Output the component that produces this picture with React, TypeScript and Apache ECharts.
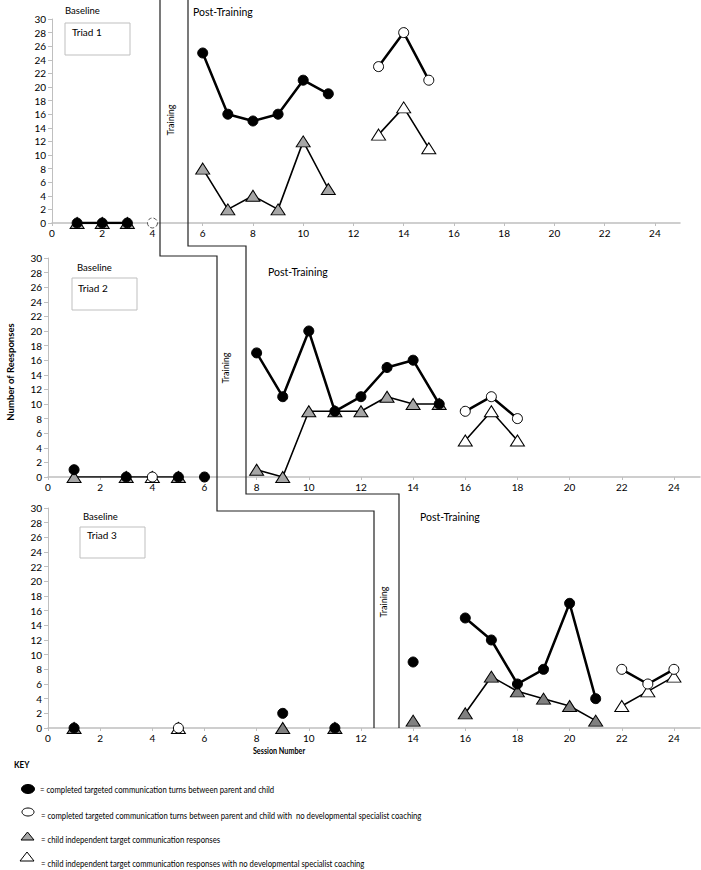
import React, { useEffect, useRef } from "react";
import * as echarts from "echarts";

// ---------- DATA (session, responses) ----------
// Triad 1
const t1ParentBase = [[1, 0], [2, 0], [3, 0]];
const t1ParentNoCoachBase = [[4, 0]];
const t1ParentPost = [[6, 25], [7, 16], [8, 15], [9, 16], [10, 21], [11, 19]];
const t1ParentNoCoach = [[13, 23], [14, 28], [15, 21]];
const t1ChildBase = [[1, 0], [2, 0], [3, 0]];
const t1ChildPost = [[6, 8], [7, 2], [8, 4], [9, 2], [10, 12], [11, 5]];
const t1ChildNoCoach = [[13, 13], [14, 17], [15, 11]];

// Triad 2
const t2ParentBase = [[1, 1], [3, 0], [5, 0], [6, 0]];
const t2ParentNoCoachBase = [[4, 0]];
const t2ParentPost = [[8, 17], [9, 11], [10, 20], [11, 9], [12, 11], [13, 15], [14, 16], [15, 10]];
const t2ParentNoCoach = [[16, 9], [17, 11], [18, 8]];
const t2ChildBase = [[1, 0], [3, 0], [5, 0]];
const t2ChildNoCoachBase = [[4, 0]];
const t2ChildPost = [[8, 1], [9, 0], [10, 9], [11, 9], [12, 9], [13, 11], [14, 10], [15, 10]];
const t2ChildNoCoach = [[16, 5], [17, 9], [18, 5]];

// Triad 3
const t3ParentBase = [[1, 0], [9, 2], [11, 0], [14, 9]];
const t3ParentNoCoachBase = [[5, 0]];
const t3ParentPost = [[16, 15], [17, 12], [18, 6], [19, 8], [20, 17], [21, 4]];
const t3ParentNoCoach = [[22, 8], [23, 6], [24, 8]];
const t3ChildBase = [[1, 0], [9, 0], [11, 0], [14, 1]];
const t3ChildNoCoachBase = [[5, 0]];
const t3ChildPost = [[16, 2], [17, 7], [18, 5], [19, 4], [20, 3], [21, 1]];
const t3ChildNoCoach = [[22, 3], [23, 5], [24, 7]];

const sessionTicks = [0, 2, 4, 6, 8, 10, 12, 14, 16, 18, 20, 22, 24];
const responseTicks = [0, 2, 4, 6, 8, 10, 12, 14, 16, 18, 20, 22, 24, 26, 28, 30];

const triadNames = ["Triad 1", "Triad 2", "Triad 3"];
const keyLabels = [
  "= completed targeted communication turns between parent and child",
  "= completed targeted communication turns between parent and child with  no developmental specialist coaching",
  "= child independent target communication responses",
  "= child independent target communication responses with no developmental specialist coaching",
];

const FONT = "Lato, 'Open Sans', sans-serif";

function parentSeries(gi: number, data: number[][], connected: boolean, white = false, dashed = false) {
  return {
    type: connected ? "line" : "scatter",
    xAxisIndex: gi,
    yAxisIndex: gi,
    data,
    symbol: "circle",
    symbolSize: 10,
    showSymbol: true,
    z: 5,
    lineStyle: { color: "#000", width: 2.5 },
    itemStyle: {
      color: white ? "#fff" : "#000",
      borderColor: dashed ? "#555" : "#000",
      borderWidth: 1,
      borderType: dashed ? "dashed" : "solid",
      opacity: 1,
    },
    emphasis: { disabled: true },
  };
}

function childSeries(gi: number, data: number[][], connected: boolean, fill: string) {
  return {
    type: connected ? "line" : "scatter",
    xAxisIndex: gi,
    yAxisIndex: gi,
    data,
    symbol: "triangle",
    symbolSize: [14, 11],
    showSymbol: true,
    z: 3,
    lineStyle: { color: "#000", width: 1.6 },
    itemStyle: { color: fill, borderColor: "#000", borderWidth: 1, opacity: 1 },
    emphasis: { disabled: true },
  };
}

const grids = [
  { left: 52, top: 19, width: 628, height: 204 },
  { left: 48, top: 258, width: 652, height: 219 },
  { left: 48, top: 508, width: 652, height: 220 },
];

export default function App() {
  const ref = useRef<HTMLDivElement>(null);
  useEffect(() => {
    document.body.style.margin = "0";
    const chart = echarts.init(ref.current!, undefined, { renderer: "svg" });

    const xAxes = grids.map((_, i) => ({
      type: "value",
      gridIndex: i,
      min: 0,
      max: 25,
      axisLine: { show: true, lineStyle: { color: "#bfbfbf", width: 1.5 } },
      axisTick: { show: true, length: 3, lineStyle: { color: "#bfbfbf" }, customValues: sessionTicks },
      splitLine: { show: false },
      axisLabel: { show: false },
    }));
    const yAxes = grids.map((_, i) => ({
      type: "value",
      gridIndex: i,
      min: 0,
      max: 30,
      interval: 2,
      axisLine: { show: true, lineStyle: { color: "#bfbfbf" } },
      axisTick: { show: true, length: 4, lineStyle: { color: "#bfbfbf" }, customValues: responseTicks },
      splitLine: { show: false },
      axisLabel: { fontSize: 10, color: "#000", fontFamily: FONT, margin: 6, customValues: responseTicks },
    }));

    const g1 = "#a6a6a6";
    const g3 = "#808080";
    const series = [
      // triad 1
      childSeries(0, t1ChildBase, true, g1),
      childSeries(0, t1ChildPost, true, g1),
      childSeries(0, t1ChildNoCoach, true, "#fff"),
      parentSeries(0, t1ParentBase, true),
      parentSeries(0, t1ParentNoCoachBase, false, true, true),
      parentSeries(0, t1ParentPost, true),
      parentSeries(0, t1ParentNoCoach, true, true),
      // triad 2
      childSeries(1, t2ChildBase, true, g1),
      childSeries(1, t2ChildNoCoachBase, false, "#fff"),
      childSeries(1, t2ChildPost, true, g1),
      childSeries(1, t2ChildNoCoach, true, "#fff"),
      parentSeries(1, t2ParentBase, false),
      parentSeries(1, t2ParentNoCoachBase, false, true),
      parentSeries(1, t2ParentPost, true),
      parentSeries(1, t2ParentNoCoach, true, true),
      // triad 3
      childSeries(2, t3ChildBase, false, g3),
      childSeries(2, t3ChildNoCoachBase, false, "#fff"),
      childSeries(2, t3ChildPost, true, g3),
      childSeries(2, t3ChildNoCoach, true, "#fff"),
      parentSeries(2, t3ParentBase, false),
      parentSeries(2, t3ParentNoCoachBase, false, true),
      parentSeries(2, t3ParentPost, true),
      parentSeries(2, t3ParentNoCoach, true, true),
    ];

    const txt = (x: number, y: number, text: string, extra: any = {}) => ({
      type: "text",
      x,
      y,
      z: 10,
      style: {
        text,
        fontFamily: FONT,
        fontSize: 10,
        fill: "#000",
        textAlign: "left",
        textVerticalAlign: "middle",
        ...(extra.style || {}),
      },
      ...(extra.el || {}),
    });
    const box = (x: number, y: number, w: number, h: number) => ({
      type: "rect",
      shape: { x, y, width: w, height: h },
      style: { fill: "#fff", stroke: "#bfbfbf", lineWidth: 1 },
      z: 9,
    });
    const rotTxt = (x: number, y: number, text: string, size: number, bold = false) => ({
      type: "text",
      x,
      y,
      rotation: Math.PI / 2,
      z: 10,
      style: {
        text,
        fontFamily: FONT,
        fontSize: size,
        fontWeight: bold ? "bold" : "normal",
        fill: "#000",
        textAlign: "center",
        textVerticalAlign: "middle",
      },
    });

    const phaseLine = (points: number[][]) => ({
      type: "polyline",
      shape: { points },
      style: { stroke: "#222", lineWidth: 1.2, fill: "none" },
      z: 8,
    });

    const keyText = (x: number, y: number, text: string) =>
      txt(x, y, text, { style: { fontSize: 9 }, el: { scaleX: 0.86 } });

    const graphic: any[] = [
      // phase-change lines
      phaseLine([[160, 0], [160, 256], [217, 256], [217, 511], [374, 511], [374, 728]]),
      phaseLine([[188, 0], [188, 246], [246, 246], [246, 494], [399, 494], [399, 728]]),
      // triad 1
      txt(65, 10, "Baseline", { style: { fontSize: 9.5 } }),
      box(65, 23, 65, 32),
      txt(72, 32, triadNames[0]),
      txt(193, 12, "Post-Training", { style: { fontSize: 10.5 } }),
      rotTxt(170, 120, "Training", 9),
      // triad 2
      txt(77, 267, "Baseline", { style: { fontSize: 9.5 } }),
      box(72, 278, 65, 32),
      txt(78, 288, triadNames[1]),
      txt(268, 272, "Post-Training", { style: { fontSize: 10.5 } }),
      rotTxt(225, 368, "Training", 9),
      // triad 3
      txt(83, 516, "Baseline", { style: { fontSize: 9.5 } }),
      box(80, 527, 65, 31),
      txt(87, 535, triadNames[2]),
      txt(420, 517, "Post-Training", { style: { fontSize: 10.5 } }),
      rotTxt(383, 602, "Training", 9),
      // axis titles
      rotTxt(10, 372, "Number of Reesponses", 9.5, true),
      txt(279, 751, "Session Number", {
        style: { fontWeight: "bold", fontSize: 8.5, textAlign: "center" },
        el: { scaleX: 0.85 },
      }),
      // key
      txt(14, 765, "KEY", { style: { fontWeight: "bold", fontSize: 9 }, el: { scaleX: 0.9 } }),
      { type: "ellipse", shape: { cx: 28, cy: 789, rx: 6.5, ry: 4.5 }, style: { fill: "#000", stroke: "#000" }, z: 10 },
      { type: "ellipse", shape: { cx: 28, cy: 812, rx: 6, ry: 4 }, style: { fill: "#fff", stroke: "#000", lineWidth: 1 }, z: 10 },
      { type: "polygon", shape: { points: [[21, 840], [27.5, 832], [34, 840]] }, style: { fill: "#a6a6a6", stroke: "#000", lineWidth: 1 }, z: 10 },
      { type: "polygon", shape: { points: [[20, 861], [27, 852], [34, 861]] }, style: { fill: "#fff", stroke: "#000", lineWidth: 1 }, z: 10 },
      keyText(40, 790, keyLabels[0]),
      keyText(41, 816, keyLabels[1]),
      keyText(41, 840, keyLabels[2]),
      keyText(41, 864, keyLabels[3]),
    ];

    chart.setOption({
      animation: false,
      backgroundColor: "#fff",
      grid: grids,
      xAxis: xAxes,
      yAxis: yAxes,
      series,
      graphic,
    });

    // session tick labels, positioned through each panel's x scale
    const tickLabels: any[] = [];
    grids.forEach((_, gi) => {
      sessionTicks.forEach((v) => {
        const p = chart.convertToPixel({ xAxisIndex: gi, yAxisIndex: gi }, [v, 0]) as number[];
        if (!p) return;
        tickLabels.push({
          type: "text",
          x: p[0],
          y: p[1] + 5,
          z: 10,
          style: {
            text: String(v),
            fontFamily: FONT,
            fontSize: 10,
            fill: "#000",
            textAlign: "center",
            textVerticalAlign: "top",
          },
        });
      });
    });
    chart.setOption({ graphic: [...graphic, ...tickLabels] });

    return () => chart.dispose();
  }, []);
  return <div ref={ref} style={{ width: 701, height: 870 }} />;
}
